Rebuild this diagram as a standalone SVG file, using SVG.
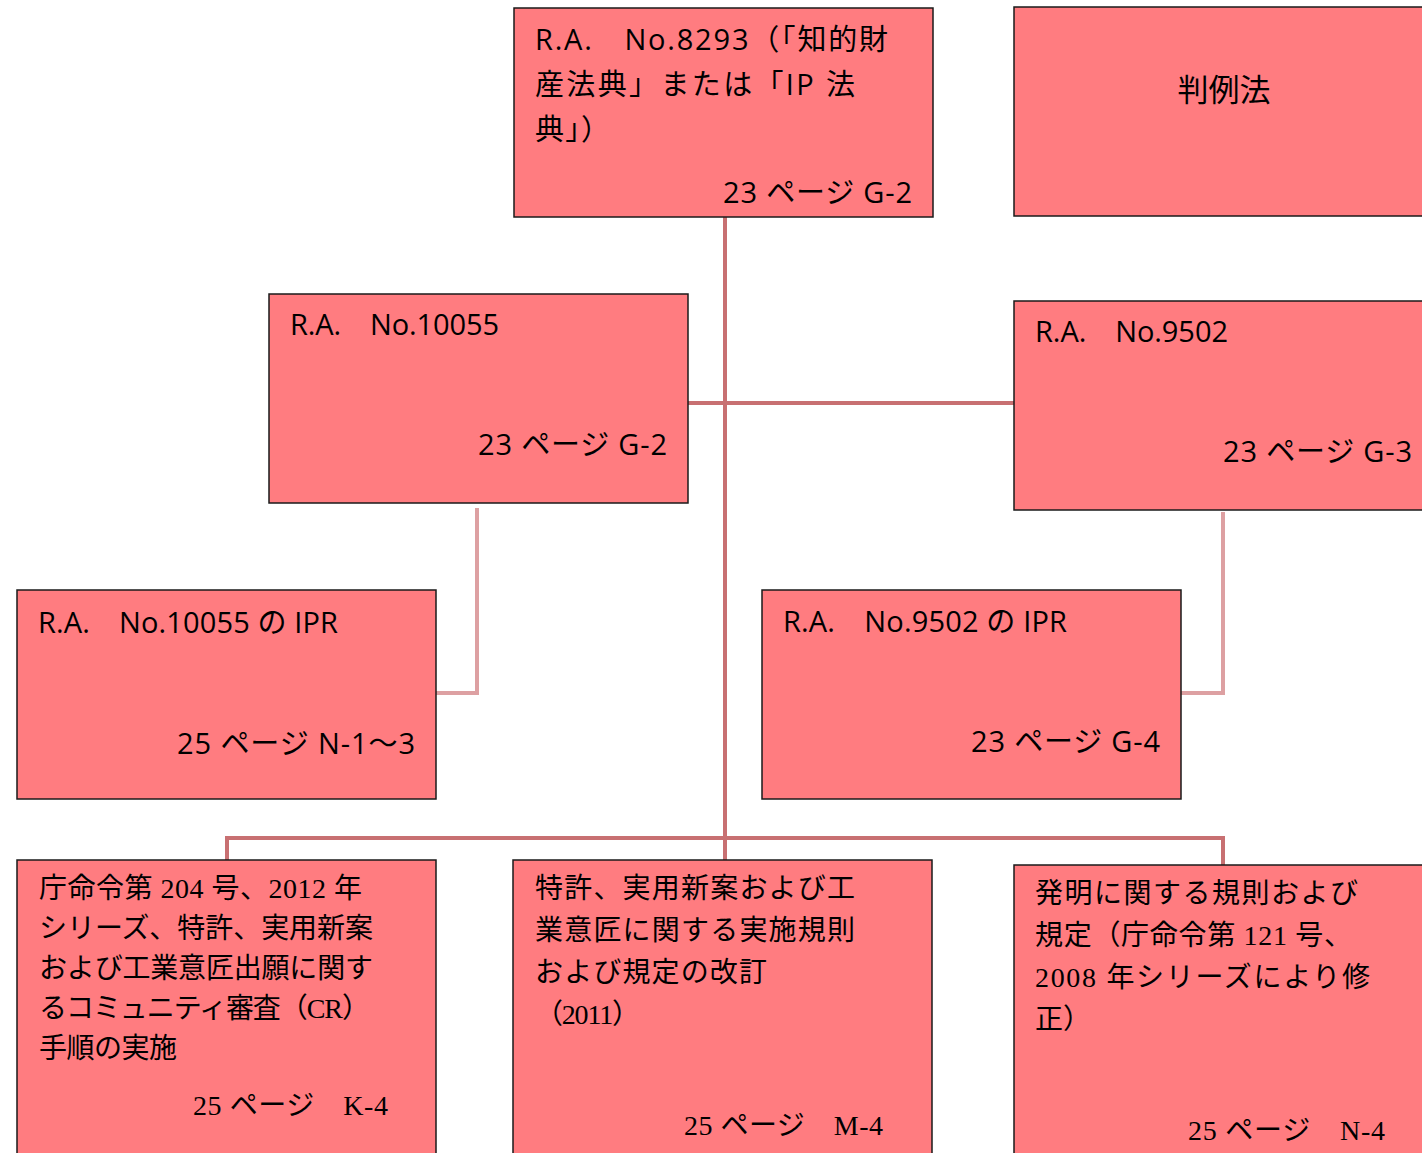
<svg xmlns="http://www.w3.org/2000/svg" width="1422" height="1153" viewBox="0 0 1422 1153">
<style>
.box{fill:#FF7C80;stroke:#1a1a1a;stroke-width:1.5}
.t{font-family:"Open Sans","Noto Sans CJK JP",sans-serif;font-size:29px;fill:#000}
.s{font-family:"Liberation Serif","Noto Sans CJK JP",serif;font-size:28px;fill:#000}
.r{text-anchor:end}
.dk{fill:none;stroke:#C87072;stroke-width:4}
.lt{fill:none;stroke:#DDA0A2;stroke-width:4}
</style>
<rect width="1422" height="1153" fill="#fff"/>
<g id="connectors">
<path class="dk" d="M725 217V860"/>
<path class="dk" d="M688 403H1014"/>
<path class="dk" d="M227 860V838H1223V865"/>
<path class="lt" d="M477 508V693H436"/>
<path class="lt" d="M1223 512V693H1181"/>
</g>
<g id="n1">
<rect class="box" x="514" y="8" width="419" height="209"/>
<text class="t" x="535" y="50" textLength="353">R.A.　No.8293（「知的財</text>
<text class="t" x="535" y="95" textLength="320">産法典」または「IP 法</text>
<text class="t" x="535" y="140" textLength="75">典」）</text>
<text class="t" x="723" y="203" textLength="189">23 ページ G-2</text>
</g>
<g id="n2">
<rect class="box" x="1014" y="7" width="420" height="209"/>
<text class="t" x="1224" y="101" text-anchor="middle" style="font-size:31px">判例法</text>
</g>
<g id="n3">
<rect class="box" x="269" y="294" width="419" height="209"/>
<text class="t" x="290" y="335" textLength="209">R.A.　No.10055</text>
<text class="t" x="478" y="455" textLength="189">23 ページ G-2</text>
</g>
<g id="n4">
<rect class="box" x="1014" y="301" width="420" height="209"/>
<text class="t" x="1035" y="342" textLength="193">R.A.　No.9502</text>
<text class="t" x="1223" y="462" textLength="189">23 ページ G-3</text>
</g>
<g id="n5">
<rect class="box" x="17" y="590" width="419" height="209"/>
<text class="t" x="38" y="633" textLength="300">R.A.　No.10055 の IPR</text>
<text class="t" x="177" y="754" textLength="238">25 ページ N-1〜3</text>
</g>
<g id="n6">
<rect class="box" x="762" y="590" width="419" height="209"/>
<text class="t" x="783" y="632" textLength="284">R.A.　No.9502 の IPR</text>
<text class="t" x="971" y="752" textLength="189">23 ページ G-4</text>
</g>
<g id="n7">
<rect class="box" x="17" y="860" width="419" height="300"/>
<text class="s" x="39" y="898" textLength="323">庁命令第 204 号、2012 年</text>
<text class="s" x="39" y="938" textLength="334">シリーズ、特許、実用新案</text>
<text class="s" x="39" y="978" textLength="334">および工業意匠出願に関す</text>
<text class="s" x="39" y="1018" textLength="331">るコミュニティ審査（CR）</text>
<text class="s" x="39" y="1058" textLength="138">手順の実施</text>
<text class="s" x="193" y="1115" textLength="195">25 ページ　K-4</text>
</g>
<g id="n8">
<rect class="box" x="513" y="860" width="419" height="300"/>
<text class="s" x="535" y="898" textLength="320">特許、実用新案および工</text>
<text class="s" x="535" y="940" textLength="320">業意匠に関する実施規則</text>
<text class="s" x="535" y="982" textLength="232">および規定の改訂</text>
<text class="s" x="535" y="1024" textLength="105">（2011）</text>
<text class="s" x="684" y="1135" textLength="199">25 ページ　M-4</text>
</g>
<g id="n9">
<rect class="box" x="1014" y="865" width="420" height="300"/>
<text class="s" x="1035" y="903" textLength="323">発明に関する規則および</text>
<text class="s" x="1035" y="945" textLength="317">規定（庁命令第 121 号、</text>
<text class="s" x="1035" y="987" textLength="335">2008 年シリーズにより修</text>
<text class="s" x="1035" y="1029">正）</text>
<text class="s" x="1188" y="1140" textLength="197">25 ページ　N-4</text>
</g>
</svg>
